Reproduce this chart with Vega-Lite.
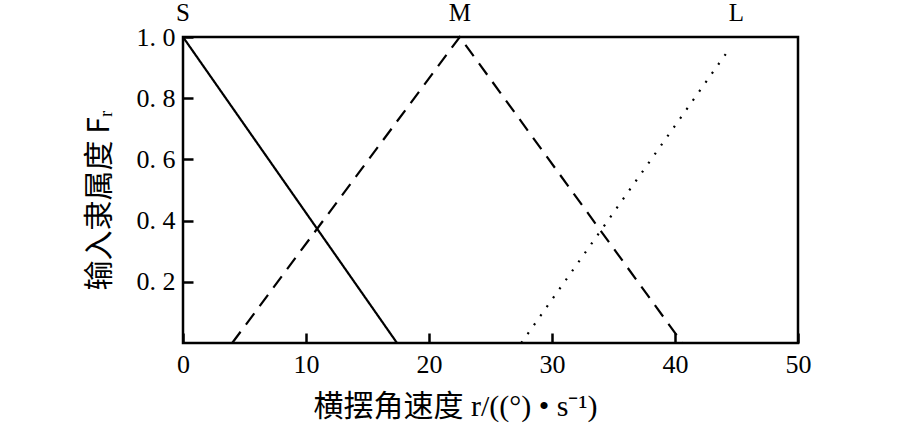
{
  "$schema": "https://vega.github.io/schema/vega-lite/v6.json",
  "width": 615,
  "height": 306,
  "autosize": {"type": "none"},
  "padding": {"left": 183, "top": 37, "right": 112, "bottom": 91},
  "background": "white",
  "config": {
    "view": {"stroke": "black", "strokeWidth": 2.5},
    "font": "Liberation Serif"
  },
  "datasets": {
    "curves": [
      {"set": "S", "r": 0, "F": 1},
      {"set": "S", "r": 17.4, "F": 0},
      {"set": "M", "r": 4.0, "F": 0},
      {"set": "M", "r": 22.5, "F": 1},
      {"set": "M", "r": 40.6, "F": 0},
      {"set": "L", "r": 27.5, "F": 0},
      {"set": "L", "r": 44.4, "F": 0.96}
    ],
    "labels": [
      {"label": "S", "r": 0},
      {"label": "M", "r": 22.5},
      {"label": "L", "r": 45}
    ]
  },
  "layer": [
    {
      "data": {"name": "curves"},
      "mark": {"type": "line", "color": "black", "strokeWidth": 2.2, "clip": false},
      "encoding": {
        "x": {
          "field": "r", "type": "quantitative",
          "scale": {"domain": [0, 50], "nice": false, "zero": false},
          "axis": {
            "title": "横摆角速度 r/((°) • s⁻¹)",
            "titleFont": "Liberation Serif, Noto Sans CJK SC",
            "titleFontSize": 30,
            "titleFontWeight": "normal",
            "titleColor": "black",
            "titlePadding": 14,
            "titleX": 272,
            "titleAlign": "center",
            "offset": -10,
            "domain": false,
            "values": [0, 10, 20, 30, 40, 50],
            "format": "d",
            "labelFont": "Liberation Serif",
            "labelFontSize": 26,
            "labelColor": "black",
            "labelPadding": 8,
            "labelFlush": false,
            "ticks": true,
            "tickSize": 10,
            "tickColor": "black",
            "tickWidth": 2.5,
            "grid": false,
            "zindex": 2
          }
        },
        "y": {
          "field": "F", "type": "quantitative",
          "scale": {"domain": [0, 1], "nice": false},
          "axis": {
            "title": "输入隶属度 Fᵣ",
            "titleFont": "Noto Sans CJK SC",
            "titleFontSize": 30,
            "titleFontWeight": "normal",
            "titleColor": "black",
            "titlePadding": 22,
            "titleY": 163,
            "offset": -10,
            "domain": false,
            "values": [0.2, 0.4, 0.6, 0.8, 1.0],
            "labelExpr": "replace(format(datum.value, '.1f'), '.', '. ')",
            "labelFont": "Liberation Serif",
            "labelFontSize": 26,
            "labelColor": "black",
            "labelPadding": 8,
            "labelFlush": false,
            "ticks": true,
            "tickSize": 10,
            "tickColor": "black",
            "tickWidth": 2.5,
            "grid": false,
            "zindex": 2
          }
        },
        "detail": {"field": "set"},
        "strokeDash": {
          "field": "set", "type": "nominal",
          "scale": {"domain": ["S", "M", "L"], "range": [[1, 0], [14, 9], [2, 9]]},
          "legend": null
        }
      }
    },
    {
      "data": {"name": "labels"},
      "mark": {"type": "text", "font": "Liberation Serif", "fontSize": 25, "color": "black", "dy": -24, "baseline": "middle", "clip": false},
      "encoding": {
        "x": {"field": "r", "type": "quantitative"},
        "y": {"datum": 1},
        "text": {"field": "label"}
      }
    }
  ]
}
